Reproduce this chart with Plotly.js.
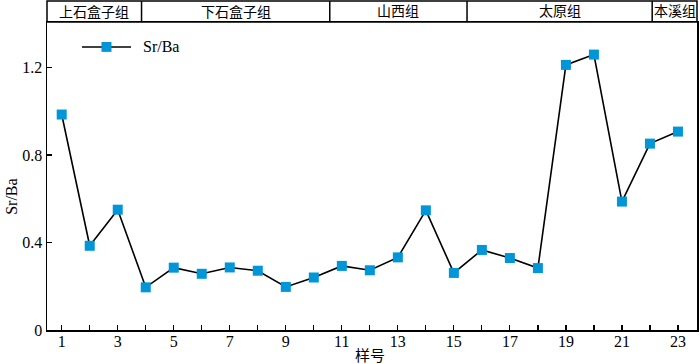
<!DOCTYPE html>
<html>
<head>
<meta charset="utf-8">
<script src="https://cdn.plot.ly/plotly-3.0.1.min.js"></script>
<style>html,body{margin:0;padding:0;background:#fff;}#chart{width:700px;height:364px;}</style>
</head>
<body>
<div id="chart"></div>
<script>
const sampleNo = [1,2,3,4,5,6,7,8,9,10,11,12,13,14,15,16,17,18,19,20,21,22,23];
const srBa = [0.985,0.385,0.55,0.195,0.285,0.257,0.286,0.271,0.197,0.240,0.293,0.273,0.332,0.547,0.261,0.366,0.329,0.283,1.212,1.259,0.587,0.852,0.907];
const formations = ['上石盒子组','下石盒子组','山西组','太原组','本溪组'];
const boundaries = [0.475,3.85,10.57,15.47,22.08,23.68];
const xTickVals = [1,3,5,7,9,11,13,15,17,19,21,23];
const yTickVals = [0,0.4,0.8,1.2];

const serif = '"Times New Roman", "Liberation Serif", "Noto Sans CJK SC", serif';
const cjk = '"Liberation Serif", "Noto Sans CJK SC", serif';
const markerColor = '#0096d8';

const shapes = [{type:'rect',xref:'paper',yref:'paper',x0:0,x1:1,y0:1,y1:1.068,line:{color:'#000',width:1.5},fillcolor:'rgba(0,0,0,0)'}];
for (let i=1;i<boundaries.length-1;i++){
  shapes.push({type:'line',xref:'x',yref:'paper',x0:boundaries[i],x1:boundaries[i],y0:1,y1:1.068,line:{color:'#000',width:1.5}});
}
// legend drawn manually (line + square key)
shapes.push({type:'line',xref:'paper',yref:'paper',x0:0.0538,x1:0.1292,y0:0.919,y1:0.919,line:{color:'#000',width:1.6}});
shapes.push({type:'rect',xref:'paper',yref:'paper',x0:0.0838,x1:0.0992,y0:0.903,y1:0.935,line:{width:0},fillcolor:markerColor});

const annotations = formations.map((f,i)=>({
  text:f,xref:'x',yref:'paper',x:(boundaries[i]+boundaries[i+1])/2,y:1.034,
  showarrow:false,xanchor:'center',yanchor:'middle',font:{family:cjk,size:14,color:'#000'}
}));
annotations.push({text:'Sr/Ba',xref:'paper',yref:'paper',x:-0.054,y:0.432,textangle:-90,showarrow:false,xanchor:'center',yanchor:'middle',font:{family:serif,size:16,color:'#000'}});
annotations.push({text:'样号',xref:'paper',yref:'paper',x:0.497,y:-0.086,showarrow:false,xanchor:'center',yanchor:'middle',font:{family:cjk,size:15,color:'#000'}});
annotations.push({text:'Sr/Ba',xref:'paper',yref:'paper',x:0.145,y:0.921,showarrow:false,xanchor:'left',yanchor:'middle',font:{family:serif,size:16,color:'#000'}});

const trace = {
  x: sampleNo, y: srBa, type:'scatter', mode:'lines+markers', name:'Sr/Ba',
  line:{color:'#000',width:1.6},
  marker:{symbol:'square',size:10,color:markerColor,line:{width:0}}
};

const layout = {
  width:700,height:364,
  margin:{l:47,r:3,t:22,b:34},
  paper_bgcolor:'#fff',plot_bgcolor:'#fff',
  showlegend:false,
  xaxis:{
    range:[0.475,23.68],tickvals:xTickVals,ticks:'inside',ticklen:5,tickwidth:1.2,tickcolor:'#000',
    minor:{dtick:1,ticks:'inside',ticklen:5,tickwidth:1.2,tickcolor:'#000'},
    showgrid:false,zeroline:false,showline:true,linecolor:'#000',linewidth:1.5,mirror:true,
    ticklabelstandoff:-4,
    tickfont:{family:serif,size:16,color:'#000'}
  },
  yaxis:{
    range:[0,1.408],tickvals:yTickVals,ticktext:['0','0.4','0.8','1.2'],ticks:'inside',ticklen:5,tickwidth:1.2,tickcolor:'#000',
    showgrid:false,zeroline:false,showline:true,linecolor:'#000',linewidth:1.5,mirror:true,
    tickfont:{family:serif,size:16,color:'#000'}
  },
  shapes:shapes,annotations:annotations
};
Plotly.newPlot('chart',[trace],layout,{displayModeBar:false,staticPlot:true});
</script>
</body>
</html>
